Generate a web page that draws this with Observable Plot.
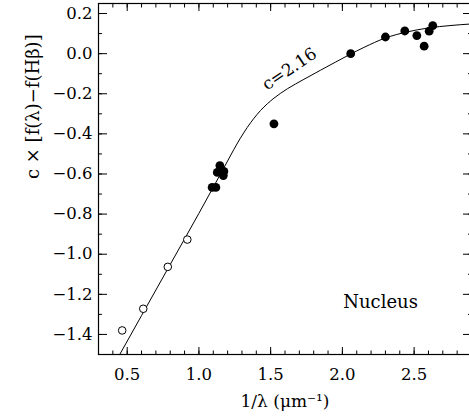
<!DOCTYPE html>
<html>
<head>
<meta charset="utf-8">
<script src="https://cdn.jsdelivr.net/npm/d3@7"></script>
<script src="https://cdn.jsdelivr.net/npm/@observablehq/plot@0.6"></script>
<style>
  html, body { margin: 0; padding: 0; background: #fff; overflow: hidden; }
  svg { display: block; }
</style>
</head>
<body>
<div id="chart"></div>
<script>
// Filled circles (optical lines): 1/lambda, c*[f(l)-f(Hb)]
const filledX = [1.092, 1.118, 1.128, 1.146, 1.174, 1.170, 1.523, 2.058, 2.300, 2.435, 2.519, 2.570, 2.605, 2.630];
const filledY = [-0.667, -0.667, -0.592, -0.558, -0.587, -0.608, -0.350, 0.000, 0.083, 0.113, 0.090, 0.037, 0.112, 0.140];
// Open circles (near-IR lines)
const openX = [0.465, 0.612, 0.783, 0.919];
const openY = [-1.380, -1.272, -1.063, -0.927];
// Extinction curve for c = 2.16
const curveX = [0.448, 0.60, 0.80, 1.00, 1.20, 1.244, 1.286, 1.337, 1.384, 1.430, 1.477, 1.523, 1.617, 1.732, 1.849, 1.950, 2.047, 2.150, 2.300, 2.450, 2.600, 2.750, 2.900];
const curveY = [-1.500, -1.306, -1.051, -0.796, -0.535, -0.477, -0.425, -0.368, -0.322, -0.283, -0.250, -0.222, -0.175, -0.128, -0.082, -0.043, -0.006, 0.031, 0.078, 0.108, 0.128, 0.140, 0.148];
// Tick values
const xTicks = [0.5, 1.0, 1.5, 2.0, 2.5];
const xMinor = d3.range(3, 30).map(d => d / 10);
const yTicks = [0.2, 0.0, -0.2, -0.4, -0.6, -0.8, -1.0, -1.2, -1.4];
const yMinor = d3.range(-15, 3).map(d => d / 10);
// Texts
const xLabel = "1/λ (μm⁻¹)";
const yLabel = "c × [f(λ)−f(Hβ)]";
const curveLabel = {x: 1.631, y: -0.077, text: "c=2.16"};
const panelLabel = {x: 2.266, y: -1.24, text: "Nucleus"};

const filled = filledX.map((x, i) => ({x, y: filledY[i]}));
const open = openX.map((x, i) => ({x, y: openY[i]}));
const curve = curveX.map((x, i) => ({x, y: curveY[i]}));

const fmt = d3.format(".1f");
const font = "DejaVu Serif";

const chart = Plot.plot({
  width: 469,
  height: 416,
  marginLeft: 98,
  marginRight: -2,
  marginTop: 3,
  marginBottom: 62,
  style: {fontFamily: font, fontSize: "16px", color: "#000", background: "#fff"},
  x: {domain: [0.3, 2.9]},
  y: {domain: [-1.5, 0.25]},
  marks: [
    // bottom axis
    Plot.axisX(xTicks, {anchor: "bottom", tickSize: 0, tickPadding: 14, tickFormat: fmt, label: null, fontSize: 16.5, fontFamily: font}),
    Plot.axisX(xTicks, {anchor: "bottom", tickSize: -7, text: null, label: null}),
    Plot.axisX(xMinor, {anchor: "bottom", tickSize: -3.5, text: null, label: null}),
    // top axis
    Plot.axisX(xTicks, {anchor: "top", tickSize: -7, text: null, label: null}),
    Plot.axisX(xMinor, {anchor: "top", tickSize: -3.5, text: null, label: null}),
    // left axis
    Plot.axisY(yTicks, {anchor: "left", tickSize: 0, tickPadding: 6, tickFormat: fmt, label: null, fontSize: 16.5, fontFamily: font}),
    Plot.axisY(yTicks, {anchor: "left", tickSize: -9, text: null, label: null}),
    Plot.axisY(yMinor, {anchor: "left", tickSize: -4, text: null, label: null}),
    // right axis
    Plot.axisY(yTicks, {anchor: "right", tickSize: -9, text: null, label: null}),
    Plot.axisY(yMinor, {anchor: "right", tickSize: -4, text: null, label: null}),
    Plot.frame({stroke: "#000", strokeWidth: 1.2}),
    // curve
    Plot.line(curve, {x: "x", y: "y", curve: "monotone-x", stroke: "#000", strokeWidth: 1, clip: true}),
    // points
    Plot.dot(open, {x: "x", y: "y", r: 3.8, stroke: "#000", strokeWidth: 1, fill: "#fff"}),
    Plot.dot(filled, {x: "x", y: "y", r: 4.4, fill: "#000", stroke: "none"}),
    // annotations
    Plot.text([curveLabel], {x: "x", y: "y", text: "text", rotate: -34, fontSize: 17, fontFamily: font, fill: "#000"}),
    Plot.text([panelLabel], {x: "x", y: "y", text: "text", fontSize: 18, fontFamily: font, fill: "#000"}),
    // axis titles
    Plot.text([xLabel], {text: d => d, frameAnchor: "bottom", dy: 52, fontSize: 17, fontFamily: font, fill: "#000"}),
    Plot.text([yLabel], {text: d => d, frameAnchor: "left", dx: -65, rotate: -90, fontSize: 18, fontFamily: font, fill: "#000"})
  ]
});
document.getElementById("chart").appendChild(chart);
</script>
</body>
</html>
